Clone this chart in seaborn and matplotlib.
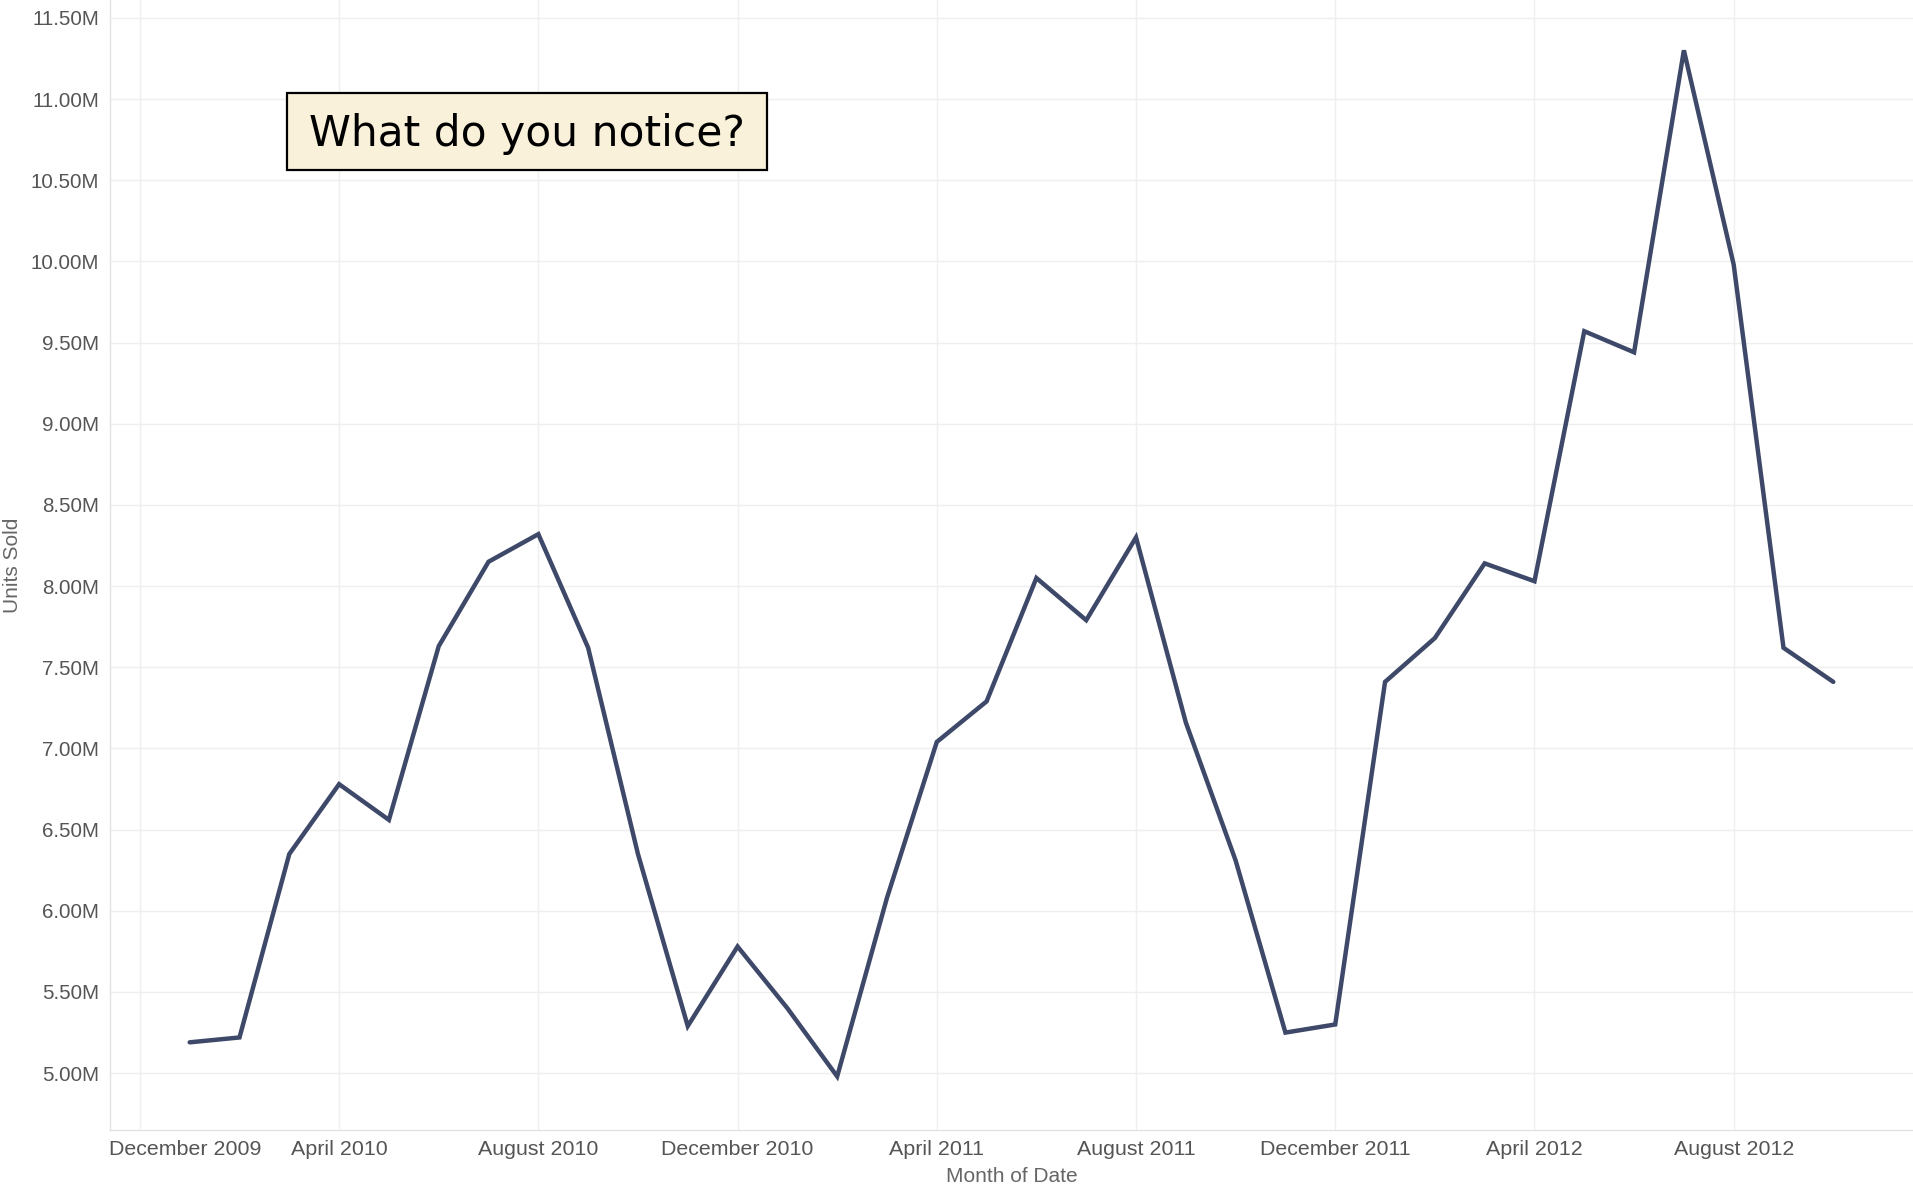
import matplotlib
matplotlib.use("Agg")
import matplotlib.pyplot as plt
import matplotlib.transforms as mtransforms
from matplotlib.patches import Rectangle
from matplotlib.ticker import FuncFormatter, MultipleLocator
import seaborn as sns
import pandas as pd

# Monthly units sold, January 2010 through October 2012 (millions)
months = pd.date_range("2010-01-01", "2012-10-01", freq="MS")
units_sold_m = [
    5.19, 5.22, 6.35, 6.78, 6.56, 7.63, 8.15, 8.32, 7.62, 6.35, 5.29, 5.78,
    5.40, 4.98, 6.08, 7.04, 7.29, 8.05, 7.79, 8.30, 7.16, 6.31, 5.25, 5.30,
    7.41, 7.68, 8.14, 8.03, 9.57, 9.44, 11.30, 9.98, 7.62, 7.41,
]
tick_labels = ["December 2009", "April 2010", "August 2010", "December 2010",
               "April 2011", "August 2011", "December 2011", "April 2012",
               "August 2012"]
tick_months = [-1, 3, 7, 11, 15, 19, 23, 27, 31]  # months since January 2010

df = pd.DataFrame({
    "month_idx": range(len(units_sold_m)),
    "units": [v * 1e6 for v in units_sold_m],
})

sns.set_theme(style="white")
plt.rcParams["font.family"] = ["Liberation Sans", "DejaVu Sans"]

fig = plt.figure(figsize=(19.13, 11.85), dpi=100)
ax = fig.add_axes([110 / 1913, 1 - 1130 / 1185, 1 - 110 / 1913, 1130 / 1185])

sns.lineplot(data=df, x="month_idx", y="units", ax=ax, color="#3e4869",
             linewidth=3.2, solid_joinstyle="miter")

ax.set_xlim(-1.6, 34.6)
ax.set_ylim(4.65e6, 11.61e6)

ax.yaxis.set_major_locator(MultipleLocator(0.5e6))
ax.yaxis.set_major_formatter(FuncFormatter(lambda v, _: f"{v / 1e6:.2f}M"))
ax.set_xticks(tick_months)
ax.set_xticklabels(tick_labels)

ax.grid(True, color="#efefef", linewidth=1.0)
ax.set_axisbelow(True)
for side in ("top", "right"):
    ax.spines[side].set_visible(False)
for side in ("left", "bottom"):
    ax.spines[side].set_color("#e2e2e2")
    ax.spines[side].set_linewidth(1.0)

ax.tick_params(axis="both", length=0, colors="#555555")
ax.tick_params(axis="x", pad=7, labelsize=15.4)
ax.tick_params(axis="y", pad=8, labelsize=14.8)

# keep the first date label inside the plot's left edge
first = ax.get_xticklabels()[0]
first.set_horizontalalignment("left")
first.set_transform(first.get_transform() +
                    mtransforms.ScaledTranslation(-0.31, 0, fig.dpi_scale_trans))

ax.set_xlabel("Month of Date", fontsize=15, color="#666666", labelpad=6)
ax.set_ylabel("Units Sold", fontsize=15, color="#666666", labelpad=6)

# prompt box
fig.patches.append(Rectangle((287 / 1913, 1 - 170 / 1185), 480 / 1913, 77 / 1185,
                             transform=fig.transFigure, facecolor="#f9f1d9",
                             edgecolor="black", linewidth=1.6, zorder=5))
fig.text(527 / 1913, 1 - 134 / 1185, "What do you notice?", ha="center",
         va="center", fontsize=30.5, color="black",
         family=["DejaVu Sans"], zorder=6)

fig.savefig("out.png", dpi=100, facecolor="white")
